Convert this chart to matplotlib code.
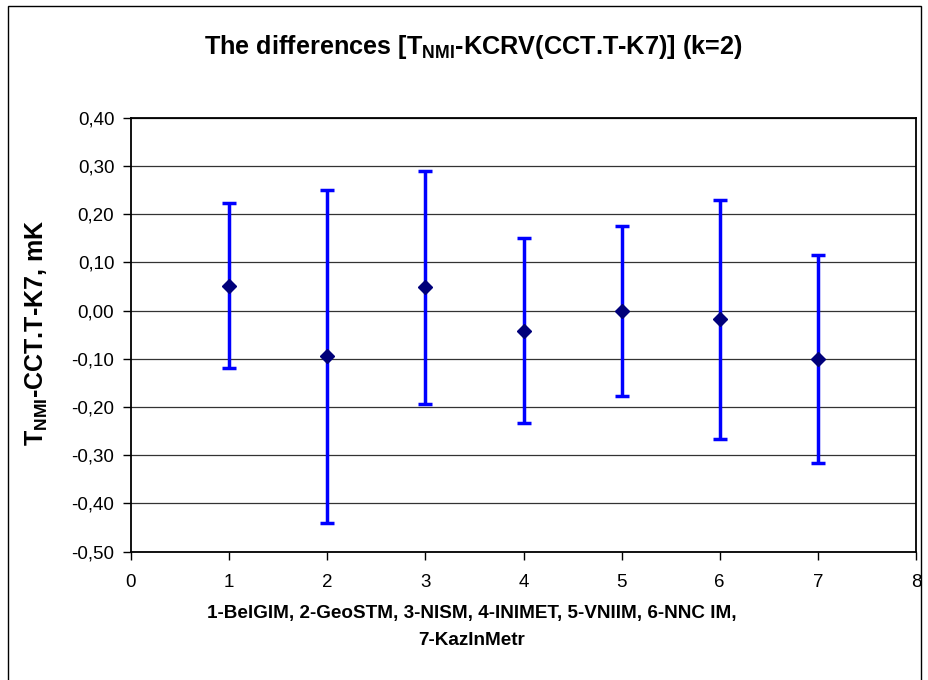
import matplotlib
matplotlib.use("Agg")
import matplotlib.pyplot as plt
from matplotlib.patches import Rectangle
from matplotlib.ticker import FuncFormatter, MultipleLocator

plt.rcParams['font.family'] = ['Liberation Sans', 'DejaVu Sans']
plt.rcParams['mathtext.default'] = 'regular'

# data
labs_x = [1, 2, 3, 4, 5, 6, 7]
diff = [0.052, -0.095, 0.048, -0.042, -0.001, -0.018, -0.101]
U = [0.172, 0.345, 0.241, 0.192, 0.176, 0.248, 0.216]

title = "The differences [T$_{NMI}$-KCRV(CCT.T-K7)] (k=2)"
ylabel = "T$_{NMI}$-CCT.T-K7, mK"
xlabel = "1-BelGIM, 2-GeoSTM, 3-NISM, 4-INIMET, 5-VNIIM, 6-NNC IM,\n7-KazInMetr"

W, H = 929, 680
fig = plt.figure(figsize=(W / 100, H / 100), dpi=100)
fig.patch.set_facecolor('white')

# outer chart border
fig.add_artist(Rectangle((8 / W, -0.05), (921 - 8) / W, 1.05 - 6 / H,
                         transform=fig.transFigure, fill=False,
                         edgecolor='black', lw=1.0))

left, right = 131 / W, 916 / W
top, bottom = 1 - 117.7 / H, 1 - 551.7 / H
ax = fig.add_axes([left, bottom, right - left, top - bottom])

ax.set_xlim(0, 8)
ax.set_ylim(-0.5, 0.4)
ax.yaxis.set_major_locator(MultipleLocator(0.1))
ax.xaxis.set_major_locator(MultipleLocator(1))
ax.yaxis.set_major_formatter(FuncFormatter(lambda v, p: f"{v:.2f}".replace('.', ',').replace('-0,00', '0,00')))
ax.grid(axis='y', color='#333333', lw=0.9)
ax.set_axisbelow(True)

for s in ax.spines.values():
    s.set_linewidth(1.3)
    s.set_color('black')

ax.errorbar(labs_x, diff, yerr=U, fmt='D', color='#00007a', ms=7,
            ecolor='#0000ff', elinewidth=2.5, capsize=5.2, capthick=2.5, zorder=3)

ax.tick_params(axis='both', direction='out', length=6, width=1, labelsize=13.5,
               colors='black')
ax.tick_params(axis='x', pad=10)
ax.tick_params(axis='y', pad=6)

fig.text(473.5 / W, 1 - 47 / H, title, ha='center', va='center',
         fontsize=18.2, fontweight='bold')
fig.text(37 / W, 1 - 333 / H, ylabel, ha='center', va='center', rotation=90,
         fontsize=18, fontweight='bold')
fig.text(472 / W, 1 - 627 / H, xlabel, ha='center', va='center',
         fontsize=13.6, fontweight='bold', linespacing=1.75)

fig.savefig('out.png', dpi=100)
